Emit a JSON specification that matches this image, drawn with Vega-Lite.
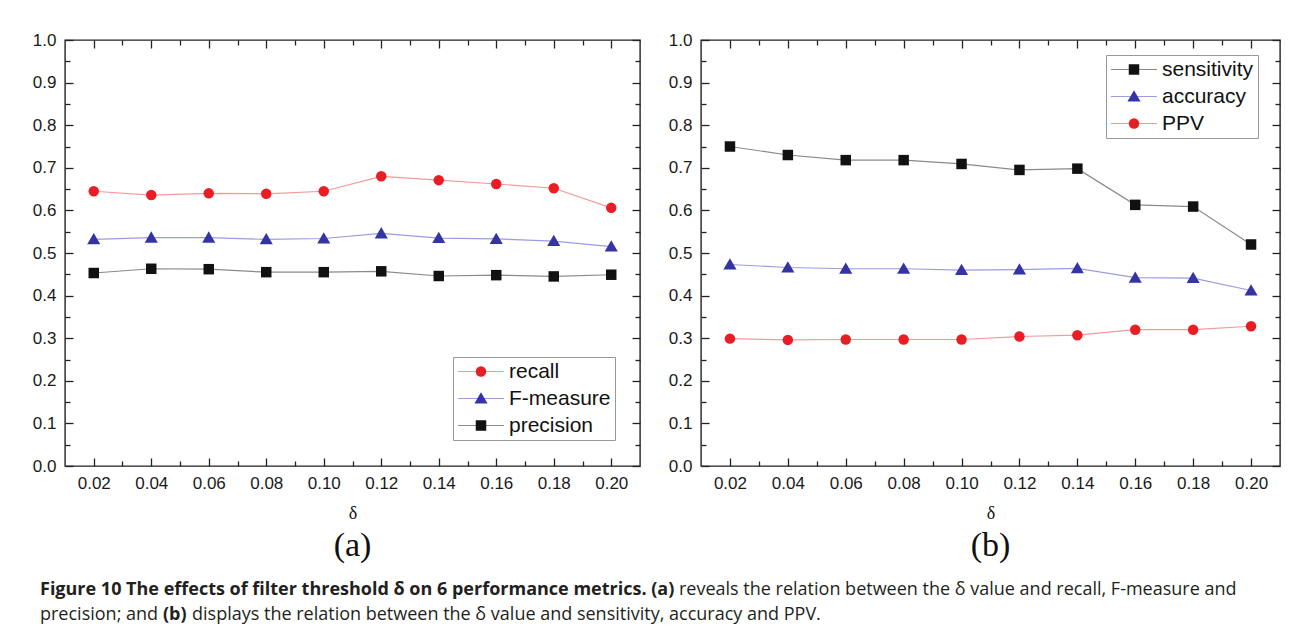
{
  "$schema": "https://vega.github.io/schema/vega-lite/v6.json",
  "background": "white",
  "padding": {"left": 31, "top": 30, "right": 5, "bottom": 5},
  "datasets": {
    "a": [
      {"delta": 0.02, "metric": "recall", "value": 0.645},
      {"delta": 0.04, "metric": "recall", "value": 0.636},
      {"delta": 0.06, "metric": "recall", "value": 0.640},
      {"delta": 0.08, "metric": "recall", "value": 0.639},
      {"delta": 0.10, "metric": "recall", "value": 0.645},
      {"delta": 0.12, "metric": "recall", "value": 0.680},
      {"delta": 0.14, "metric": "recall", "value": 0.671},
      {"delta": 0.16, "metric": "recall", "value": 0.662},
      {"delta": 0.18, "metric": "recall", "value": 0.652},
      {"delta": 0.20, "metric": "recall", "value": 0.606},
      {"delta": 0.02, "metric": "F-measure", "value": 0.532},
      {"delta": 0.04, "metric": "F-measure", "value": 0.536},
      {"delta": 0.06, "metric": "F-measure", "value": 0.536},
      {"delta": 0.08, "metric": "F-measure", "value": 0.532},
      {"delta": 0.10, "metric": "F-measure", "value": 0.534},
      {"delta": 0.12, "metric": "F-measure", "value": 0.546},
      {"delta": 0.14, "metric": "F-measure", "value": 0.535},
      {"delta": 0.16, "metric": "F-measure", "value": 0.533},
      {"delta": 0.18, "metric": "F-measure", "value": 0.528},
      {"delta": 0.20, "metric": "F-measure", "value": 0.515},
      {"delta": 0.02, "metric": "precision", "value": 0.453},
      {"delta": 0.04, "metric": "precision", "value": 0.463},
      {"delta": 0.06, "metric": "precision", "value": 0.462},
      {"delta": 0.08, "metric": "precision", "value": 0.455},
      {"delta": 0.10, "metric": "precision", "value": 0.455},
      {"delta": 0.12, "metric": "precision", "value": 0.457},
      {"delta": 0.14, "metric": "precision", "value": 0.446},
      {"delta": 0.16, "metric": "precision", "value": 0.448},
      {"delta": 0.18, "metric": "precision", "value": 0.445},
      {"delta": 0.20, "metric": "precision", "value": 0.449}
    ],
    "b": [
      {"delta": 0.02, "metric": "sensitivity", "value": 0.750},
      {"delta": 0.04, "metric": "sensitivity", "value": 0.730},
      {"delta": 0.06, "metric": "sensitivity", "value": 0.718},
      {"delta": 0.08, "metric": "sensitivity", "value": 0.718},
      {"delta": 0.10, "metric": "sensitivity", "value": 0.709},
      {"delta": 0.12, "metric": "sensitivity", "value": 0.695},
      {"delta": 0.14, "metric": "sensitivity", "value": 0.698},
      {"delta": 0.16, "metric": "sensitivity", "value": 0.613},
      {"delta": 0.18, "metric": "sensitivity", "value": 0.609},
      {"delta": 0.20, "metric": "sensitivity", "value": 0.520},
      {"delta": 0.02, "metric": "accuracy", "value": 0.473},
      {"delta": 0.04, "metric": "accuracy", "value": 0.466},
      {"delta": 0.06, "metric": "accuracy", "value": 0.463},
      {"delta": 0.08, "metric": "accuracy", "value": 0.463},
      {"delta": 0.10, "metric": "accuracy", "value": 0.460},
      {"delta": 0.12, "metric": "accuracy", "value": 0.461},
      {"delta": 0.14, "metric": "accuracy", "value": 0.464},
      {"delta": 0.16, "metric": "accuracy", "value": 0.442},
      {"delta": 0.18, "metric": "accuracy", "value": 0.441},
      {"delta": 0.20, "metric": "accuracy", "value": 0.412},
      {"delta": 0.02, "metric": "PPV", "value": 0.299},
      {"delta": 0.04, "metric": "PPV", "value": 0.296},
      {"delta": 0.06, "metric": "PPV", "value": 0.297},
      {"delta": 0.08, "metric": "PPV", "value": 0.297},
      {"delta": 0.10, "metric": "PPV", "value": 0.297},
      {"delta": 0.12, "metric": "PPV", "value": 0.304},
      {"delta": 0.14, "metric": "PPV", "value": 0.307},
      {"delta": 0.16, "metric": "PPV", "value": 0.320},
      {"delta": 0.18, "metric": "PPV", "value": 0.320},
      {"delta": 0.20, "metric": "PPV", "value": 0.328}
    ]
  },
  "vconcat": [
    {
      "hconcat": [
        {
          "width": 575,
          "height": 426,
          "data": {"name": "a"},
          "title": {"text": "(a)", "orient": "bottom", "font": "Liberation Serif", "fontSize": 34, "fontWeight": "normal", "color": "#111", "offset": 7},
          "layer": [
            {
              "mark": {"type": "line", "strokeWidth": 1.2},
              "encoding": {
                "x": {"field": "delta", "type": "quantitative", "scale": {"domain": [0.01, 0.21], "nice": false, "zero": false},
                  "axis": {"orient": "bottom", "values": [0.02,0.03,0.04,0.05,0.06,0.07,0.08,0.09,0.1,0.11,0.12,0.13,0.14,0.15,0.16,0.17,0.18,0.19,0.2],
                    "labelExpr": "round(datum.value*100) % 2 === 0 ? format(datum.value, '.2f') : ''",
                    "labelOverlap": false, "labelFlush": false,
                    "tickSize": {"condition": {"test": "round(datum.value*100) % 2 === 0", "value": -8}, "value": -5},
                    "labelPadding": 17,
                    "title": "δ", "titleFont": "Liberation Serif", "titleFontSize": 18, "titleFontWeight": "normal", "titleColor": "#111", "titlePadding": 10}},
                "y": {"field": "value", "type": "quantitative", "scale": {"domain": [0, 1], "nice": false},
                  "axis": {"orient": "left", "values": [0,0.05,0.1,0.15,0.2,0.25,0.3,0.35,0.4,0.45,0.5,0.55,0.6,0.65,0.7,0.75,0.8,0.85,0.9,0.95,1],
                    "labelExpr": "round(datum.value*20) % 2 === 0 ? format(datum.value, '.1f') : ''",
                    "labelOverlap": false, "labelFlush": false,
                    "tickSize": {"condition": {"test": "round(datum.value*20) % 2 === 0", "value": -8}, "value": -5},
                    "labelPadding": 17, "title": null}},
                "stroke": {"field": "metric", "type": "nominal", "sort": ["recall", "F-measure", "precision"],
                  "scale": {"range": ["#f29b9b", "#9c9ce0", "#8a8a8a"]},
                  "legend": {"orient": "none", "legendX": 388, "legendY": 317, "title": null, "symbolType": "stroke", "symbolSize": 2116, "symbolStrokeWidth": 1.2, "clipHeight": 21,
                    "labelFont": "Liberation Sans", "labelFontSize": 21, "labelColor": "#111", "labelOffset": 4, "rowPadding": 5, "padding": 4, "strokeColor": "#999"}}
              }
            },
            {
              "mark": {"type": "point", "filled": true, "size": 110, "opacity": 1, "strokeWidth": 0},
              "encoding": {
                "x": {"field": "delta", "type": "quantitative", "axis": null},
                "y": {"field": "value", "type": "quantitative", "axis": null},
                "fill": {"field": "metric", "type": "nominal",
                  "scale": {"domain": ["recall", "F-measure", "precision"], "range": ["#ec1c24", "#3434a4", "#111111"]},
                  "legend": {"orient": "none", "legendX": 401.5, "legendY": 317, "title": null, "symbolSize": 110, "symbolStrokeWidth": 0, "clipHeight": 21,
                    "labelFont": "Liberation Sans", "labelFontSize": 21, "labelExpr": "''", "labelOffset": 4, "rowPadding": 5, "padding": 4}},
                "shape": {"field": "metric", "type": "nominal",
                  "scale": {"domain": ["recall", "F-measure", "precision"], "range": ["circle", "M0,-1.2L1.25,0.95L-1.25,0.95Z", "square"]},
                  "legend": {"orient": "none", "legendX": 401.5, "legendY": 317, "title": null, "symbolSize": 110, "symbolStrokeWidth": 0, "clipHeight": 21,
                    "labelFont": "Liberation Sans", "labelFontSize": 21, "labelExpr": "''", "labelOffset": 4, "rowPadding": 5, "padding": 4}}
              }
            },
            {
              "mark": {"type": "point", "opacity": 0},
              "encoding": {
                "x": {"field": "delta", "type": "quantitative",
                  "axis": {"orient": "top", "values": [0.02,0.03,0.04,0.05,0.06,0.07,0.08,0.09,0.1,0.11,0.12,0.13,0.14,0.15,0.16,0.17,0.18,0.19,0.2],
                    "labels": false, "title": null,
                    "tickSize": {"condition": {"test": "round(datum.value*100) % 2 === 0", "value": -8}, "value": -5}}},
                "y": {"field": "value", "type": "quantitative",
                  "axis": {"orient": "right", "values": [0,0.05,0.1,0.15,0.2,0.25,0.3,0.35,0.4,0.45,0.5,0.55,0.6,0.65,0.7,0.75,0.8,0.85,0.9,0.95,1],
                    "labels": false, "title": null,
                    "tickSize": {"condition": {"test": "round(datum.value*20) % 2 === 0", "value": -8}, "value": -5}}}
              }
            }
          ],
          "resolve": {"axis": {"x": "independent", "y": "independent"}}
        },
        {
          "width": 579,
          "height": 426,
          "data": {"name": "b"},
          "title": {"text": "(b)", "orient": "bottom", "font": "Liberation Serif", "fontSize": 34, "fontWeight": "normal", "color": "#111", "offset": 7},
          "layer": [
            {
              "mark": {"type": "line", "strokeWidth": 1.2},
              "encoding": {
                "x": {"field": "delta", "type": "quantitative", "scale": {"domain": [0.01, 0.21], "nice": false, "zero": false},
                  "axis": {"orient": "bottom", "values": [0.02,0.03,0.04,0.05,0.06,0.07,0.08,0.09,0.1,0.11,0.12,0.13,0.14,0.15,0.16,0.17,0.18,0.19,0.2],
                    "labelExpr": "round(datum.value*100) % 2 === 0 ? format(datum.value, '.2f') : ''",
                    "labelOverlap": false, "labelFlush": false,
                    "tickSize": {"condition": {"test": "round(datum.value*100) % 2 === 0", "value": -8}, "value": -5},
                    "labelPadding": 17,
                    "title": "δ", "titleFont": "Liberation Serif", "titleFontSize": 18, "titleFontWeight": "normal", "titleColor": "#111", "titlePadding": 10}},
                "y": {"field": "value", "type": "quantitative", "scale": {"domain": [0, 1], "nice": false},
                  "axis": {"orient": "left", "values": [0,0.05,0.1,0.15,0.2,0.25,0.3,0.35,0.4,0.45,0.5,0.55,0.6,0.65,0.7,0.75,0.8,0.85,0.9,0.95,1],
                    "labelExpr": "round(datum.value*20) % 2 === 0 ? format(datum.value, '.1f') : ''",
                    "labelOverlap": false, "labelFlush": false,
                    "tickSize": {"condition": {"test": "round(datum.value*20) % 2 === 0", "value": -8}, "value": -5},
                    "labelPadding": 17, "title": null}},
                "stroke": {"field": "metric", "type": "nominal", "sort": ["sensitivity", "accuracy", "PPV"],
                  "scale": {"range": ["#8a8a8a", "#9c9ce0", "#f29b9b"]},
                  "legend": {"orient": "none", "legendX": 405, "legendY": 15, "title": null, "symbolType": "stroke", "symbolSize": 2116, "symbolStrokeWidth": 1.2, "clipHeight": 21,
                    "labelFont": "Liberation Sans", "labelFontSize": 21, "labelColor": "#111", "labelOffset": 4, "rowPadding": 5, "padding": 4, "strokeColor": "#999"}}
              }
            },
            {
              "mark": {"type": "point", "filled": true, "size": 110, "opacity": 1, "strokeWidth": 0},
              "encoding": {
                "x": {"field": "delta", "type": "quantitative", "axis": null},
                "y": {"field": "value", "type": "quantitative", "axis": null},
                "fill": {"field": "metric", "type": "nominal",
                  "scale": {"domain": ["sensitivity", "accuracy", "PPV"], "range": ["#111111", "#3434a4", "#ec1c24"]},
                  "legend": {"orient": "none", "legendX": 418.5, "legendY": 15, "title": null, "symbolSize": 110, "symbolStrokeWidth": 0, "clipHeight": 21,
                    "labelFont": "Liberation Sans", "labelFontSize": 21, "labelExpr": "''", "labelOffset": 4, "rowPadding": 5, "padding": 4}},
                "shape": {"field": "metric", "type": "nominal",
                  "scale": {"domain": ["sensitivity", "accuracy", "PPV"], "range": ["square", "M0,-1.2L1.25,0.95L-1.25,0.95Z", "circle"]},
                  "legend": {"orient": "none", "legendX": 418.5, "legendY": 15, "title": null, "symbolSize": 110, "symbolStrokeWidth": 0, "clipHeight": 21,
                    "labelFont": "Liberation Sans", "labelFontSize": 21, "labelExpr": "''", "labelOffset": 4, "rowPadding": 5, "padding": 4}}
              }
            },
            {
              "mark": {"type": "point", "opacity": 0},
              "encoding": {
                "x": {"field": "delta", "type": "quantitative",
                  "axis": {"orient": "top", "values": [0.02,0.03,0.04,0.05,0.06,0.07,0.08,0.09,0.1,0.11,0.12,0.13,0.14,0.15,0.16,0.17,0.18,0.19,0.2],
                    "labels": false, "title": null,
                    "tickSize": {"condition": {"test": "round(datum.value*100) % 2 === 0", "value": -8}, "value": -5}}},
                "y": {"field": "value", "type": "quantitative",
                  "axis": {"orient": "right", "values": [0,0.05,0.1,0.15,0.2,0.25,0.3,0.35,0.4,0.45,0.5,0.55,0.6,0.65,0.7,0.75,0.8,0.85,0.9,0.95,1],
                    "labels": false, "title": null,
                    "tickSize": {"condition": {"test": "round(datum.value*20) % 2 === 0", "value": -8}, "value": -5}}}
              }
            }
          ],
          "resolve": {"axis": {"x": "independent", "y": "independent"}}
        }
      ],
      "spacing": 25,
      "resolve": {"scale": {"stroke": "independent", "fill": "independent", "shape": "independent"}, "legend": {"stroke": "independent", "fill": "independent", "shape": "independent"}}
    },
    {
      "width": 1230,
      "height": 45,
      "view": {"stroke": null},
      "encoding": {
        "y": {"field": "line", "type": "quantitative", "scale": {"domain": [1, 2], "range": [14, 39]}, "axis": null},
        "text": {"field": "text", "type": "nominal"}
      },
      "layer": [
        {"data": {"values": [{"line": 1, "text": "Figure 10 The effects of filter threshold δ on 6 performance metrics. (a)"}]},
         "mark": {"type": "text", "align": "left", "baseline": "alphabetic", "font": "Open Sans", "fontSize": 18, "fontWeight": "bold", "color": "#231f20", "x": -25}},
        {"data": {"values": [{"line": 1, "text": "reveals the relation between the δ value and recall, F-measure and"}]},
         "mark": {"type": "text", "align": "left", "baseline": "alphabetic", "font": "Open Sans", "fontSize": 18, "fontWeight": "normal", "color": "#231f20", "x": 614}},
        {"data": {"values": [{"line": 2, "text": "precision; and"}]},
         "mark": {"type": "text", "align": "left", "baseline": "alphabetic", "font": "Open Sans", "fontSize": 18, "fontWeight": "normal", "color": "#231f20", "x": -25}},
        {"data": {"values": [{"line": 2, "text": "(b)"}]},
         "mark": {"type": "text", "align": "left", "baseline": "alphabetic", "font": "Open Sans", "fontSize": 18, "fontWeight": "bold", "color": "#231f20", "x": 98}},
        {"data": {"values": [{"line": 2, "text": "displays the relation between the δ value and sensitivity, accuracy and PPV."}]},
         "mark": {"type": "text", "align": "left", "baseline": "alphabetic", "font": "Open Sans", "fontSize": 18, "fontWeight": "normal", "color": "#231f20", "x": 127}}
      ]
    }
  ],
  "spacing": 17,
  "config": {
    "font": "Liberation Sans",
    "view": {"stroke": "#222", "strokeWidth": 1.4},
    "axis": {"domain": false, "grid": false, "labelFont": "Liberation Sans", "labelFontSize": 17, "labelColor": "#1a1a1a", "tickColor": "#222", "tickWidth": 1.3}
  }
}
